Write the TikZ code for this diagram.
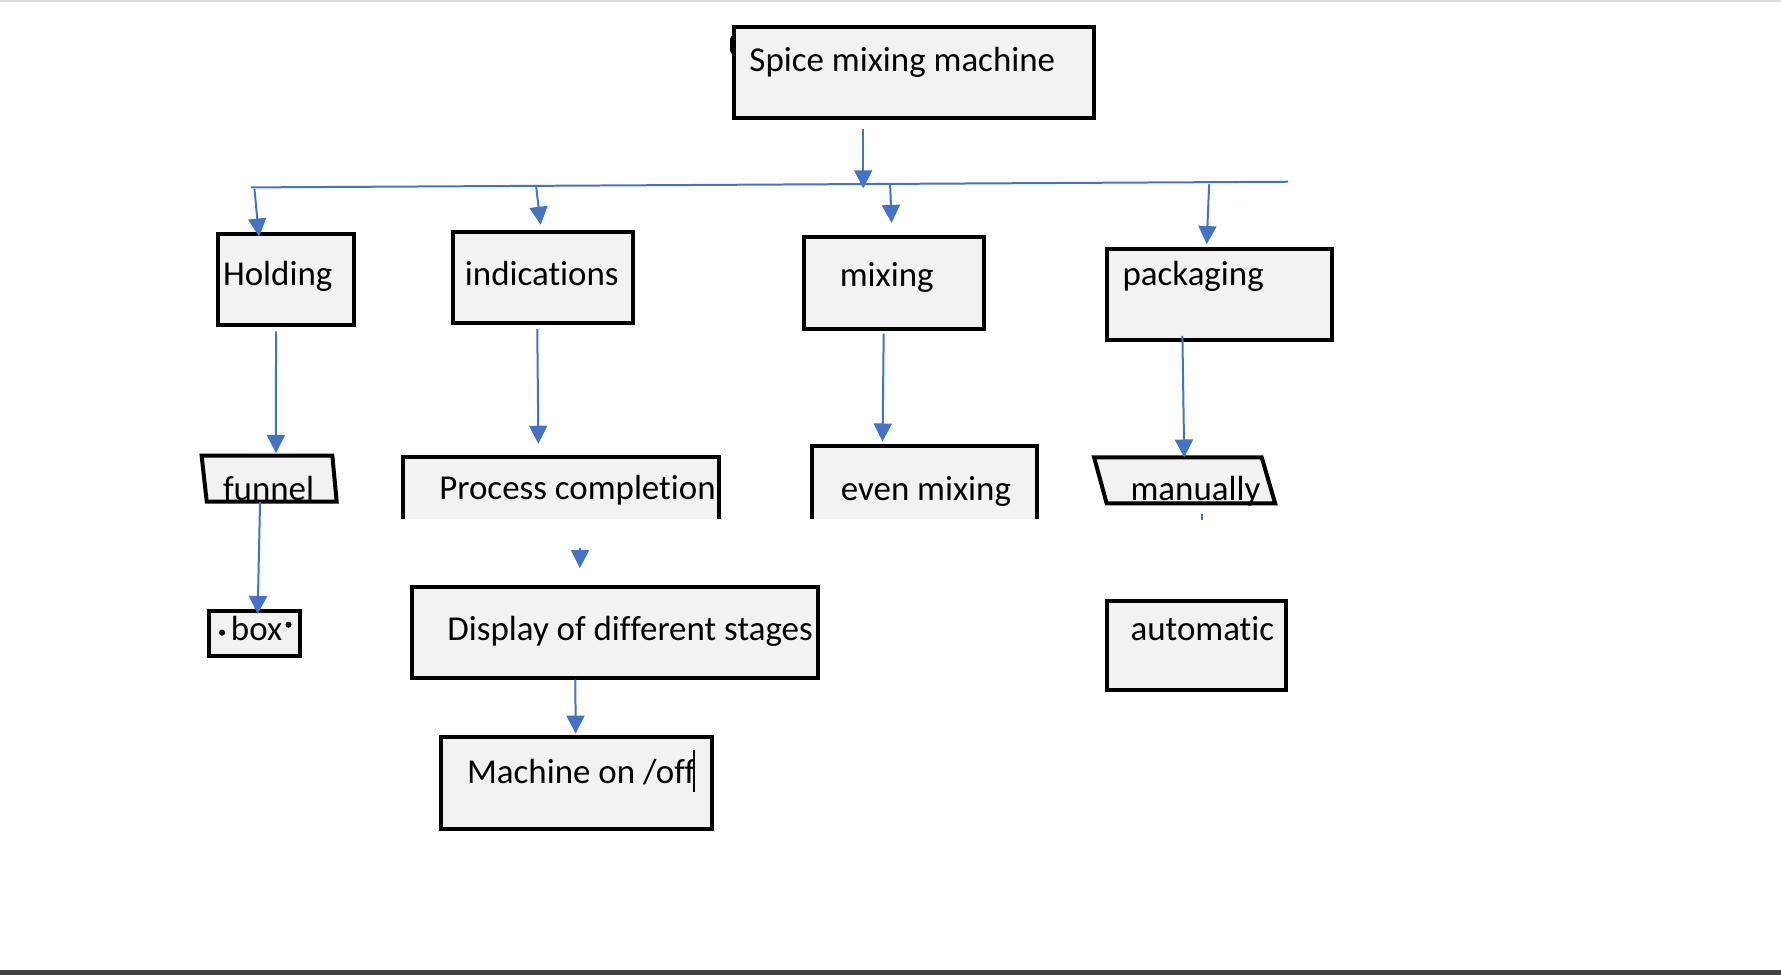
\documentclass[tikz,border=0pt]{standalone}
\usepackage{fontspec}
\setmainfont{Carlito}[Ligatures=NoCommon]
\usetikzlibrary{arrows.meta,calc,fit}
\definecolor{boxfill}{HTML}{F2F2F2}
\definecolor{arrblue}{HTML}{4472C4}
\definecolor{topgray}{HTML}{DADADA}
\definecolor{botgray}{HTML}{404040}
\tikzset{
  box/.style={draw=black, line width=2pt, fill=boxfill, inner sep=0pt},
  ghost/.style={draw=none, inner sep=0pt},
  openbox/.style={draw=none, fill=boxfill, inner sep=0pt},
  edgeline/.style={draw=black, line width=2pt},
  shapeline/.style={draw=black, line width=2pt, fill=boxfill, line join=miter},
  lbl/.style={anchor=base west, inner sep=0pt, font=\fontsize{17.5}{20}\selectfont},
  arr/.style={draw=arrblue, line width=1pt, -{Triangle[length=9pt,width=9pt]}},
  bus/.style={draw=arrblue, line width=1pt},
}
\begin{document}
\begin{tikzpicture}[x=0.02cm,y=-0.02cm]
\useasboundingbox (0,0) rectangle (1568,858);
\fill[white] (0,0) rectangle (1568,858);
\fill[topgray] (0,0) rectangle (1568,1.6);
\fill[botgray] (0,854.3) rectangle (1568,858);

% small artifact behind the top box
\fill[black, rounded corners=2] (642.7,31) rectangle (648,48);

% boxes
\node[box, fit={(646,24)(963,104)}] (top) {};
\node[box, fit={(192,206)(312,286)}] (hold) {};
\node[box, fit={(399,204)(557,284)}] (ind) {};
\node[box, fit={(708,209)(866,290)}] (mix) {};
\node[box, fit={(975,219)(1173,299)}] (pack) {};

\node[openbox, fit={(355,403)(633,457)}] (proc) {};
\draw[edgeline] (proc.south west) -- (proc.north west) -- (proc.north east) -- (proc.south east);
\node[openbox, fit={(715,393)(913,457)}] (even) {};
\draw[edgeline] (even.south west) -- (even.north west) -- (even.north east) -- (even.south east);

\node[ghost, fit={(177.5,401.2)(296.4,441.7)}] (funnel) {};
\draw[shapeline] (177.5,401.2) -- (292.6,401.2) -- (296.4,441.7) -- (182,441.7) -- cycle;
\node[ghost, fit={(963.2,402.6)(1122.6,443.1)}] (manual) {};
\draw[shapeline] (963.2,402.6) -- (1110.8,402.6) -- (1122.6,443.1) -- (974.3,443.1) -- cycle;

\node[box, fit={(184.3,538)(264.1,577.3)}] (box) {};
\node[box, fit={(362.5,516.5)(720,596.6)}] (disp) {};
\node[box, fit={(388,648.6)(627,729.6)}] (mach) {};
\node[box, fit={(974.3,529)(1132,607.5)}] (auto) {};

% bus line
\coordinate (busL) at (221,165);
\coordinate (busR) at (1134,160);
\draw[bus] (busL) -- (busR);

% texts
\node[lbl] (ttop) at (659.5,62.8) {Spice mixing machine};
\node[lbl] (thold) at (196,251.5) {Holding};
\node[lbl] (tind) at (409,251.5) {indications};
\node[lbl] (tmix) at (739,252.5) {mixing};
\node[lbl] (tpack) at (988,251.5) {packaging};
\node[lbl] (tfunnel) at (196,440.2) {funnel};
\node[lbl] (tproc) at (386.5,439.6) {Process completion};
\node[lbl] (teven) at (740,440.6) {even mixing};
\node[lbl] (tman) at (995,440.8) {manually};
\node[lbl] (tbox) at (203,564) {box};
\fill[black] (195.5,557) circle (2.7);
\fill[black] (254,550) circle (2.7);
\node[lbl] (tdisp) at (393.6,564) {Display of different stages};
\node[lbl] (tmach) at (410.9,689.5) {Machine on /off};
\draw[black, line width=0.6pt] (611,660.3) -- (611,697);
\node[lbl] (tauto) at (995,564) {automatic};

% connectors
\draw[arr] ($(top.south)+(-44.5,8)$) -- ($(top.south)+(-44.5,60)$);
\draw[arr] ($(hold.north)+(-28,-38)$) -- ($(hold.north)+(-24,4)$);
\draw[arr] ($(ind.north)+(-6,-38)$) -- ($(ind.north)+(-2,-4.4)$);
\draw[arr] ($(mix.north)+(-3.4,-46)$) -- ($(mix.north)+(-2,-11)$);
\draw[arr] ($(pack.north)+(-9.5,-55)$) -- ($(pack.north)+(-11.6,-2.4)$);
\draw[arr] ($(hold.south)+(-9,4)$) -- ($(funnel.north)+(6,-2)$);
\draw[arr] ($(ind.south)+(-5,4)$) -- ($(proc.north)+(-20,-12)$);
\draw[arr] ($(mix.south)+(-9,2)$) -- ($(even.north)+(-37,-4)$);
\draw[arr] ($(pack.south)+(-33,-5)$) -- ($(manual.north)+(-0.3,0.5)$);
\draw[arr] ($(funnel.south)+(-8,0)$) -- ($(box.north)+(2.6,4.3)$);
\draw[arr] ($(proc.south)+(16.7,25)$) -- ($(disp.north)+(-30.8,-14.6)$);
\draw[arr] ($(disp.south)+(-34.7,0)$) -- ($(mach.north)+(-0.7,-1)$);
\draw[bus] ($(manual.south)+(15,9)$) -- ($(manual.south)+(15,14)$);
\end{tikzpicture}
\end{document}
